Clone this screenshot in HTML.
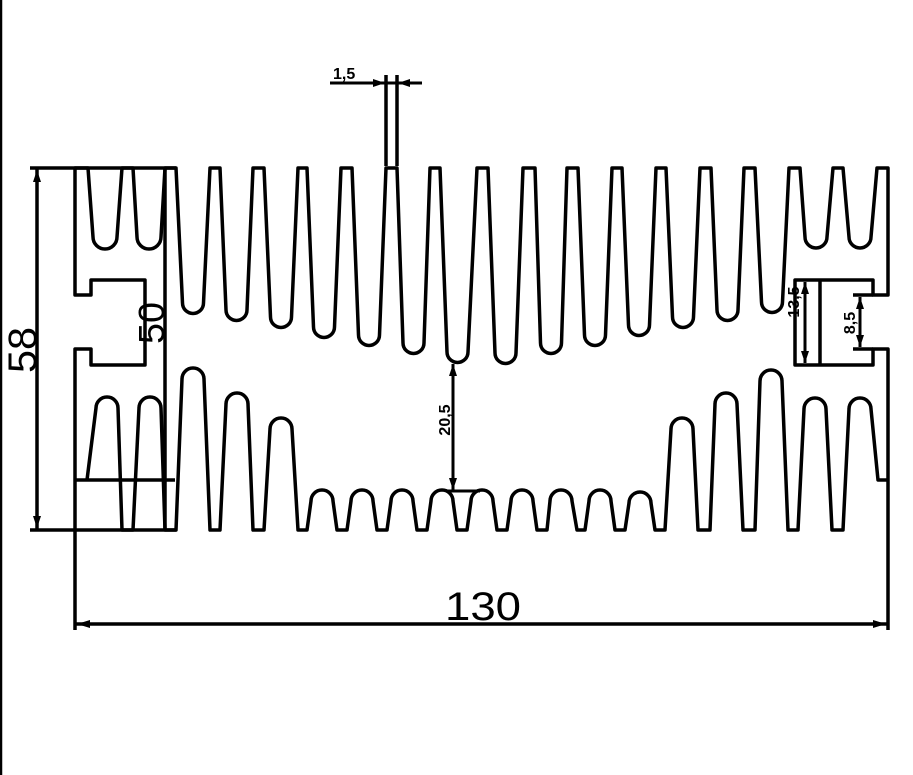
<!DOCTYPE html>
<html><head><meta charset="utf-8"><style>
html,body{margin:0;padding:0;background:#fff;width:913px;height:775px;overflow:hidden}
svg{display:block}
text{font-family:"Liberation Sans",sans-serif;fill:#000}
</style></head><body>
<svg width="913" height="775" viewBox="0 0 913 775" xmlns="http://www.w3.org/2000/svg">
<g fill="none" stroke="#000" stroke-width="3.5" stroke-linejoin="round">
<line x1="1" y1="0" x2="1" y2="775" stroke-width="2.5"/>
<!-- top profile -->
<path d="M165,530 L165,168 L176,168
L182.5,303 A10.5,10.5 0 0 0 203.5,303 L210,168 L220,168
L226,310 A10.5,10.5 0 0 0 247,310 L253,168 L264,168
L270.5,317 A10.5,10.5 0 0 0 291.5,317 L298,168 L307,168
L313.5,327 A10.5,10.5 0 0 0 334.5,327 L341,168 L352,168
L358.5,335 A10.5,10.5 0 0 0 379.5,335 L386,168 L397,168
L403,343 A10.5,10.5 0 0 0 424,343 L430,168 L440,168
L447,352 A10.5,10.5 0 0 0 468,352 L477,168 L488,168
L495,353 A10.5,10.5 0 0 0 516,353 L523,168 L535,168
L540.5,343 A10.5,10.5 0 0 0 561.5,343 L567,168 L578,168
L584.5,335 A10.5,10.5 0 0 0 605.5,335 L612,168 L622,168
L628.5,325 A10.5,10.5 0 0 0 649.5,325 L656,168 L666,168
L672.5,317 A10.5,10.5 0 0 0 693.5,317 L700,168 L711,168
L717,310 A10.5,10.5 0 0 0 738,310 L744,168 L755,168
L761.5,302 A10.5,10.5 0 0 0 782.5,302 L789,168 L800,168
L805,237 A11,11 0 0 0 827,237 L833,168 L843,168
L849,237 A11,11 0 0 0 871,237 L877,168 L888,168 L888,295 L873,295 L873,280 L795,280 L795,365 L873,365 L873,349 L888,349 L888,630"/>
<!-- left inner top fins + slot -->
<path d="M75,630 L75,349 L91,349 L91,365 L145,365 L145,280 L91,280 L91,295 L75,295 L75,168 L88,168
L93,237 A12,12 0 0 0 117,237 L122,168 L133,168
L137,237 A12,12 0 0 0 161,237 L165,168"/>
<!-- bottom profile -->
<path d="M87,480 L96,408 A11,11 0 0 1 118,408 L122,530 L133,530
L139,408 A11,11 0 0 1 161,408 L165,530 L176,530
L182,379 A11,11 0 0 1 204,379 L210,530 L220,530
L226,404 A11,11 0 0 1 248,404 L253,530 L264,530
L270,429 A11,11 0 0 1 292,429 L298,530 L307,530
L311,501 A11,11 0 0 1 333,501 L337,530 L347,530
L351,501 A11,11 0 0 1 373,501 L377,530 L387,530
L391,501 A11,11 0 0 1 413,501 L417,530 L427,530
L431,501 A11,11 0 0 1 453,501 L457,530 L467,530
L471,501 A11,11 0 0 1 493,501 L497,530 L507,530
L511,501 A11,11 0 0 1 533,501 L537,530 L547,530
L550,501 A11,11 0 0 1 572,501 L577,530 L585,530
L589,501 A11,11 0 0 1 611,501 L615,530 L625,530
L629,503 A11,11 0 0 1 651,503 L655,530 L665,530
L671,429 A11,11 0 0 1 693,429 L698,530 L710,530
L715,404 A11,11 0 0 1 737,404 L743,530 L755,530
L760,381 A11,11 0 0 1 782,381 L788,530 L798,530
L804,409 A11,11 0 0 1 826,409 L832,530 L843,530
L849,409 A11,11 0 0 1 871,409 L878,480 L888,480"/>
<line x1="75" y1="480" x2="175" y2="480"/>
<line x1="820" y1="280" x2="820" y2="365"/>
<line x1="853" y1="295" x2="873" y2="295"/>
<line x1="853" y1="349" x2="873" y2="349"/>
<!-- 58 dimension -->
<line x1="30" y1="168" x2="176" y2="168"/>
<line x1="30" y1="530" x2="176" y2="530"/>
<line x1="37" y1="168" x2="37" y2="530"/>
<!-- 130 dimension -->
<line x1="75" y1="624" x2="888" y2="624"/>
<!-- 1,5 -->
<line x1="386" y1="75" x2="386" y2="166"/>
<line x1="397" y1="75" x2="397" y2="166"/>
<line x1="330" y1="83" x2="422" y2="83" stroke-width="3"/>
<!-- 20,5 -->
<line x1="453" y1="364" x2="453" y2="490" stroke-width="3"/>
<line x1="447" y1="491" x2="480" y2="491" stroke-width="3"/>
<!-- 13,5 / 8,5 -->
<line x1="805" y1="282" x2="805" y2="363" stroke-width="3"/>
<line x1="860" y1="297" x2="860" y2="347" stroke-width="3"/>
</g>
<g fill="#000">
<path d="M77,624 L90,620 L90,628 Z"/><path d="M886,624 L873,620 L873,628 Z"/>
<path d="M37,170 L33,182 L41,182 Z"/><path d="M37,528 L33,516 L41,516 Z"/>
<path d="M453,364 L449,376 L457,376 Z"/><path d="M453,490 L449,478 L457,478 Z"/>
<path d="M805,282 L801,294 L809,294 Z"/><path d="M805,363 L801,351 L809,351 Z"/>
<path d="M860,297 L856,309 L864,309 Z"/><path d="M860,347 L856,335 L864,335 Z"/>
<path d="M385,83 L373,79 L373,87 Z"/><path d="M398,83 L410,79 L410,87 Z"/>
</g>
<text x="483" y="620" font-size="40" text-anchor="middle" textLength="76" lengthAdjust="spacingAndGlyphs">130</text>
<text transform="translate(36,350) rotate(-90)" font-size="40" text-anchor="middle" textLength="46" lengthAdjust="spacingAndGlyphs">58</text>
<text transform="translate(164,323) rotate(-90)" font-size="36" text-anchor="middle" textLength="42" lengthAdjust="spacingAndGlyphs">50</text>
<text x="333" y="79" font-size="16" font-weight="bold">1,5</text>
<text transform="translate(450,420) rotate(-90)" font-size="16" font-weight="bold" text-anchor="middle">20,5</text>
<text transform="translate(799,302) rotate(-90)" font-size="16" font-weight="bold" text-anchor="middle">13,5</text>
<text transform="translate(855,323) rotate(-90)" font-size="16" font-weight="bold" text-anchor="middle">8,5</text>
</svg>
</body></html>
